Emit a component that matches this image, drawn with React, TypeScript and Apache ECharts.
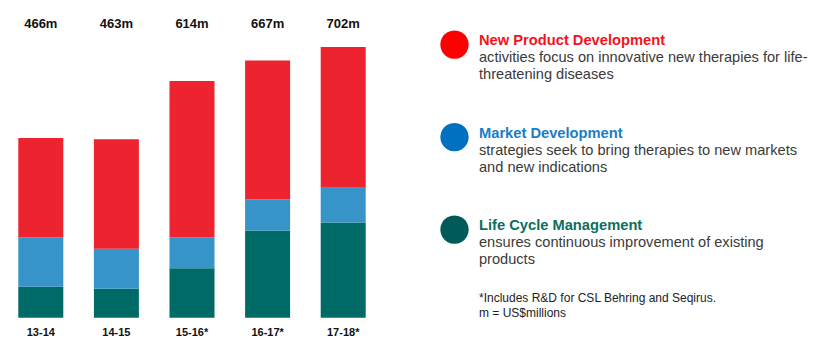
import React, { useEffect, useRef } from "react";
import * as echarts from "echarts";

const categories = ["13-14", "14-15", "15-16*", "16-17*", "17-18*"];
const totals = [466, 463, 614, 667, 702];
const lifeCycle = [80, 75, 128, 226, 247];
const marketDev = [128, 104, 80, 81, 90];
const newProduct = [258, 284, 406, 360, 365];

const seriesNames = ["New Product Development", "Market Development", "Life Cycle Management"];
const descriptions = [
  ["activities focus on innovative new therapies for life-", "threatening diseases"],
  ["strategies seek to bring therapies to new markets", "and new indications"],
  ["ensures continuous improvement of existing", "products"],
];
const footnotes = ["*Includes R&D for CSL Behring and Seqirus.", "m = US$millions"];

const barColors = { red: "#ED2330", blue: "#3794C9", green: "#006B66" };
const dotColors = ["#FF0000", "#0070C0", "#005A5A"];
const titleColors = ["#F5121B", "#1B7DC4", "#0D6E5F"];

export default function App() {
  const ref = useRef<HTMLDivElement>(null);
  useEffect(() => {
    if (!ref.current) return;
    const chart = echarts.init(ref.current, null, { renderer: "svg" });
    const font = "Liberation Sans, Arial, sans-serif";
    const graphics: any[] = [];
    const groupY = [40, 132.5, 225];
    for (let i = 0; i < 3; i++) {
      const y = groupY[i];
      graphics.push({
        type: "circle",
        shape: { cx: 454.5, cy: y + 4.6, r: 14.2 },
        style: { fill: dotColors[i] },
      });
      graphics.push({
        type: "text",
        x: 479,
        y,
        style: {
          text: seriesNames[i],
          font: `bold 14.7px ${font}`,
          fill: titleColors[i],
          verticalAlign: "middle",
        },
      });
      descriptions[i].forEach((line, j) => {
        graphics.push({
          type: "text",
          x: 479,
          y: y + 17.3 + j * 17,
          style: {
            text: line,
            font: `14.6px ${font}`,
            fill: "#3a3a3a",
            verticalAlign: "middle",
          },
        });
      });
    }
    footnotes.forEach((line, j) => {
      graphics.push({
        type: "text",
        x: 479,
        y: 297.7 + j * 15.6,
        style: { text: line, font: `12px ${font}`, fill: "#222", verticalAlign: "middle" },
      });
    });

    chart.setOption({
      animation: false,
      backgroundColor: "#ffffff",
      grid: { left: 3, width: 378, top: 40.1, bottom: 344 - 317.7 },
      xAxis: [
        {
          type: "category",
          data: categories,
          axisLine: { show: false },
          axisTick: { show: false },
          axisLabel: { fontFamily: font, fontWeight: "bold", fontSize: 11, color: "#111", margin: 9 },
        },
        {
          type: "category",
          position: "top",
          data: totals.map((t) => `${t}m`),
          axisLine: { show: false },
          axisTick: { show: false },
          axisLabel: { fontFamily: font, fontWeight: "bold", fontSize: 13, color: "#111", margin: 10 },
        },
      ],
      yAxis: { type: "value", min: 0, max: 720, show: false, splitLine: { show: false } },
      series: [
        { name: "Life Cycle Management", type: "bar", stack: "t", data: lifeCycle, barWidth: 45, itemStyle: { color: barColors.green } },
        { name: "Market Development", type: "bar", stack: "t", data: marketDev, barWidth: 45, itemStyle: { color: barColors.blue } },
        { name: "New Product Development", type: "bar", stack: "t", data: newProduct, barWidth: 45, itemStyle: { color: barColors.red } },
      ],
      graphic: graphics,
    });
    return () => chart.dispose();
  }, []);
  return <div ref={ref} style={{ position: "fixed", left: 0, top: 0, width: 828, height: 344 }} />;
}
